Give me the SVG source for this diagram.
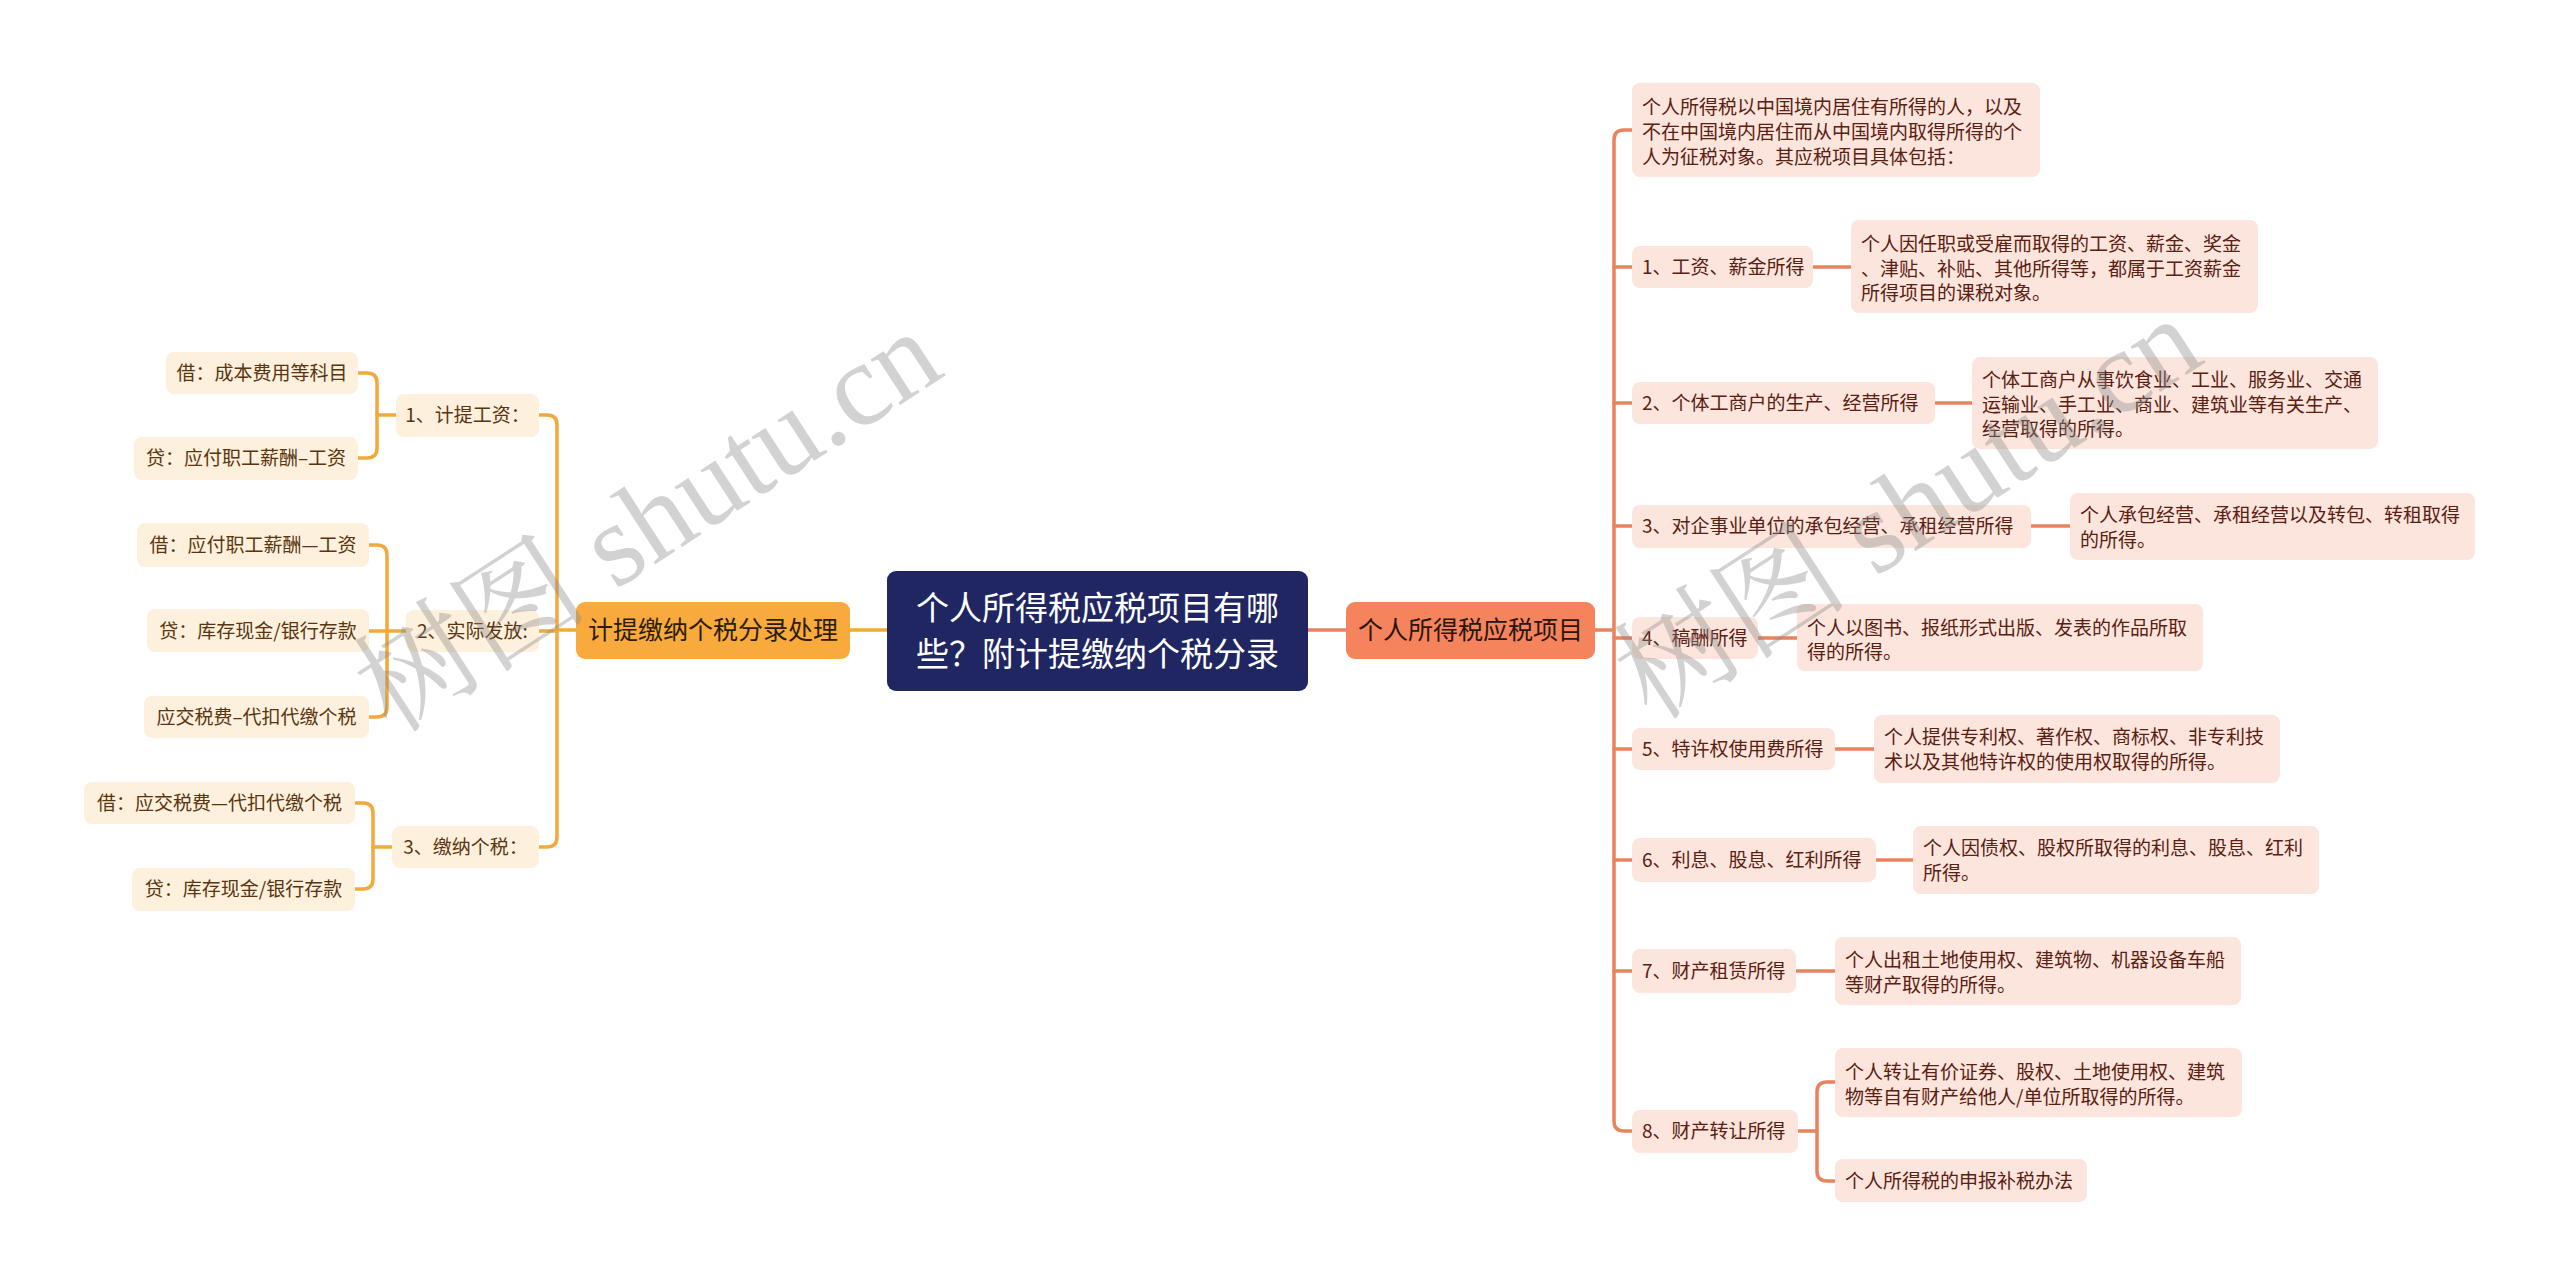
<svg xmlns="http://www.w3.org/2000/svg" width="2560" height="1287" viewBox="0 0 2560 1287">
<style>
.t{font-family:"Noto Sans CJK SC","Noto Sans",sans-serif;}
.lf rect{fill:#FDF0DC;}
.lf text{font-size:19px;fill:#5A3510;text-anchor:middle;}
.rt rect{fill:#FCE5DC;}
.rt text{font-size:19px;fill:#5A2012;}
.cl{fill:none;stroke:#F2A93B;stroke-width:3.5;stroke-linecap:round;}
.cr{fill:none;stroke:#E9835E;stroke-width:3.5;stroke-linecap:round;}
.wm{font-family:"Liberation Serif","Noto Serif CJK SC","Noto Sans CJK SC",serif;font-size:118px;fill:#8a8a8a;fill-opacity:0.38;}
</style>
<rect width="2560" height="1287" fill="#FFFFFF"/>
<g id="connectors">
<path class="cl" d="M887,630 H850"/>
<path class="cl" d="M576,630 H557"/>
<path class="cl" d="M539,415 H547 Q557,415 557,425 V837 Q557,847 547,847 H539"/>
<path class="cl" d="M557,631 H539"/>
<path class="cl" d="M396,415 H377"/>
<path class="cl" d="M358,373 H367 Q377,373 377,383 V448 Q377,458 367,458 H358"/>
<path class="cl" d="M406,631 H369"/>
<path class="cl" d="M369,545 H377 Q387,545 387,555 V707 Q387,717 377,717 H369"/>
<path class="cl" d="M392,847 H373"/>
<path class="cl" d="M355,803 H363 Q373,803 373,813 V879 Q373,889 363,889 H355"/>
<path class="cr" d="M1308,630 H1346"/>
<path class="cr" d="M1595,630 H1614"/>
<path class="cr" d="M1632,130 H1624 Q1614,130 1614,140 V1121 Q1614,1131 1624,1131 H1632"/>
<path class="cr" d="M1614,267 H1632 M1614,403 H1632 M1614,526 H1632 M1614,638 H1632 M1614,749 H1632 M1614,860 H1632 M1614,971 H1632"/>
<path class="cr" d="M1813,267 H1851 M1935,403 H1972 M2031,526 H2070 M1758,638 H1797 M1835,749 H1874 M1876,860 H1913 M1796,971 H1835"/>
<path class="cr" d="M1798,1131 H1817"/>
<path class="cr" d="M1835,1082 H1827 Q1817,1082 1817,1092 V1171 Q1817,1181 1827,1181 H1835"/>
</g>
<g id="center" class="t">
<rect x="887" y="571" width="421" height="120" rx="9" fill="#1F2661"/>
<text x="1097.5" y="620" font-size="33" fill="#FFFFFF" text-anchor="middle">个人所得税应税项目有哪</text>
<text x="1097.5" y="666" font-size="33" fill="#FFFFFF" text-anchor="middle">些？附计提缴纳个税分录</text>
</g>
<g id="left-main" class="t">
<rect x="576" y="602" width="274" height="57" rx="9" fill="#F9AA3C"/>
<text x="713" y="639" font-size="25" fill="#2B1D0A" text-anchor="middle">计提缴纳个税分录处理</text>
</g>
<g id="right-main" class="t">
<rect x="1346" y="602" width="249" height="57" rx="9" fill="#F5845C"/>
<text x="1470.5" y="639" font-size="25" fill="#2A1510" text-anchor="middle">个人所得税应税项目</text>
</g>
<g id="b1" class="t lf"><rect x="396" y="394" width="143" height="43" rx="8"/><text x="467.5" y="422">1、计提工资：</text></g>
<g id="l1" class="t lf"><rect x="166" y="352" width="192" height="42" rx="8"/><text x="262" y="380">借：成本费用等科目</text></g>
<g id="l2" class="t lf"><rect x="134" y="437" width="224" height="43" rx="8"/><text x="246" y="465">贷：应付职工薪酬–工资</text></g>
<g id="b2" class="t lf"><rect x="406" y="610" width="133" height="42" rx="8"/><text x="472.5" y="638">2、实际发放:</text></g>
<g id="l3" class="t lf"><rect x="137" y="523" width="232" height="44" rx="8"/><text x="253" y="552">借：应付职工薪酬—工资</text></g>
<g id="l4" class="t lf"><rect x="147" y="609" width="222" height="43" rx="8"/><text x="258" y="638">贷：库存现金/银行存款</text></g>
<g id="l5" class="t lf"><rect x="144" y="696" width="225" height="42" rx="8"/><text x="256.5" y="724">应交税费–代扣代缴个税</text></g>
<g id="b3" class="t lf"><rect x="392" y="826" width="147" height="42" rx="8"/><text x="465.5" y="854">3、缴纳个税：</text></g>
<g id="l6" class="t lf"><rect x="84" y="782" width="271" height="42" rx="8"/><text x="219.5" y="810">借：应交税费—代扣代缴个税</text></g>
<g id="l7" class="t lf"><rect x="132" y="868" width="223" height="43" rx="8"/><text x="243.5" y="896">贷：库存现金/银行存款</text></g>
<g id="intro" class="t rt"><rect x="1632" y="83" width="408" height="94" rx="8"/>
<text x="1642" y="114">个人所得税以中国境内居住有所得的人，以及</text>
<text x="1642" y="139">不在中国境内居住而从中国境内取得所得的个</text>
<text x="1642" y="164">人为征税对象。其应税项目具体包括：</text></g>
<g id="r1" class="t rt"><rect x="1632" y="246" width="181" height="42" rx="8"/><text x="1642" y="274">1、工资、薪金所得</text></g>
<g id="d1" class="t rt"><rect x="1851" y="220" width="407" height="93" rx="8"/>
<text x="1861" y="251">个人因任职或受雇而取得的工资、薪金、奖金</text>
<text x="1861" y="276">、津贴、补贴、其他所得等，都属于工资薪金</text>
<text x="1861" y="300">所得项目的课税对象。</text></g>
<g id="r2" class="t rt"><rect x="1632" y="382" width="303" height="42" rx="8"/><text x="1642" y="410">2、个体工商户的生产、经营所得</text></g>
<g id="d2" class="t rt"><rect x="1972" y="357" width="406" height="92" rx="8"/>
<text x="1982" y="387">个体工商户从事饮食业、工业、服务业、交通</text>
<text x="1982" y="412">运输业、手工业、商业、建筑业等有关生产、</text>
<text x="1982" y="436">经营取得的所得。</text></g>
<g id="r3" class="t rt"><rect x="1632" y="505" width="399" height="43" rx="8"/><text x="1642" y="533">3、对企事业单位的承包经营、承租经营所得</text></g>
<g id="d3" class="t rt"><rect x="2070" y="493" width="405" height="67" rx="8"/>
<text x="2080" y="522">个人承包经营、承租经营以及转包、转租取得</text>
<text x="2080" y="547">的所得。</text></g>
<g id="r4" class="t rt"><rect x="1632" y="617" width="126" height="42" rx="8"/><text x="1642" y="645">4、稿酬所得</text></g>
<g id="d4" class="t rt"><rect x="1797" y="604" width="406" height="67" rx="8"/>
<text x="1807" y="635">个人以图书、报纸形式出版、发表的作品所取</text>
<text x="1807" y="659">得的所得。</text></g>
<g id="r5" class="t rt"><rect x="1632" y="728" width="203" height="42" rx="8"/><text x="1642" y="756">5、特许权使用费所得</text></g>
<g id="d5" class="t rt"><rect x="1874" y="715" width="406" height="68" rx="8"/>
<text x="1884" y="744">个人提供专利权、著作权、商标权、非专利技</text>
<text x="1884" y="769">术以及其他特许权的使用权取得的所得。</text></g>
<g id="r6" class="t rt"><rect x="1632" y="838" width="244" height="44" rx="8"/><text x="1642" y="867">6、利息、股息、红利所得</text></g>
<g id="d6" class="t rt"><rect x="1913" y="826" width="406" height="68" rx="8"/>
<text x="1923" y="855">个人因债权、股权所取得的利息、股息、红利</text>
<text x="1923" y="880">所得。</text></g>
<g id="r7" class="t rt"><rect x="1632" y="949" width="164" height="44" rx="8"/><text x="1642" y="978">7、财产租赁所得</text></g>
<g id="d7" class="t rt"><rect x="1835" y="937" width="406" height="68" rx="8"/>
<text x="1845" y="967">个人出租土地使用权、建筑物、机器设备车船</text>
<text x="1845" y="992">等财产取得的所得。</text></g>
<g id="r8" class="t rt"><rect x="1632" y="1110" width="166" height="43" rx="8"/><text x="1642" y="1138">8、财产转让所得</text></g>
<g id="d8a" class="t rt"><rect x="1835" y="1048" width="407" height="69" rx="8"/>
<text x="1845" y="1079">个人转让有价证券、股权、土地使用权、建筑</text>
<text x="1845" y="1104">物等自有财产给他人/单位所取得的所得。</text></g>
<g id="d8b" class="t rt"><rect x="1835" y="1159" width="252" height="43" rx="8"/><text x="1845" y="1188">个人所得税的申报补税办法</text></g>
<g id="watermark">
<text class="wm" x="392" y="735" transform="rotate(-33 392 735)">树图 shutu.cn</text>
<text class="wm" x="1652" y="722" transform="rotate(-33 1652 722)">树图 shutu.cn</text>
</g>
</svg>
